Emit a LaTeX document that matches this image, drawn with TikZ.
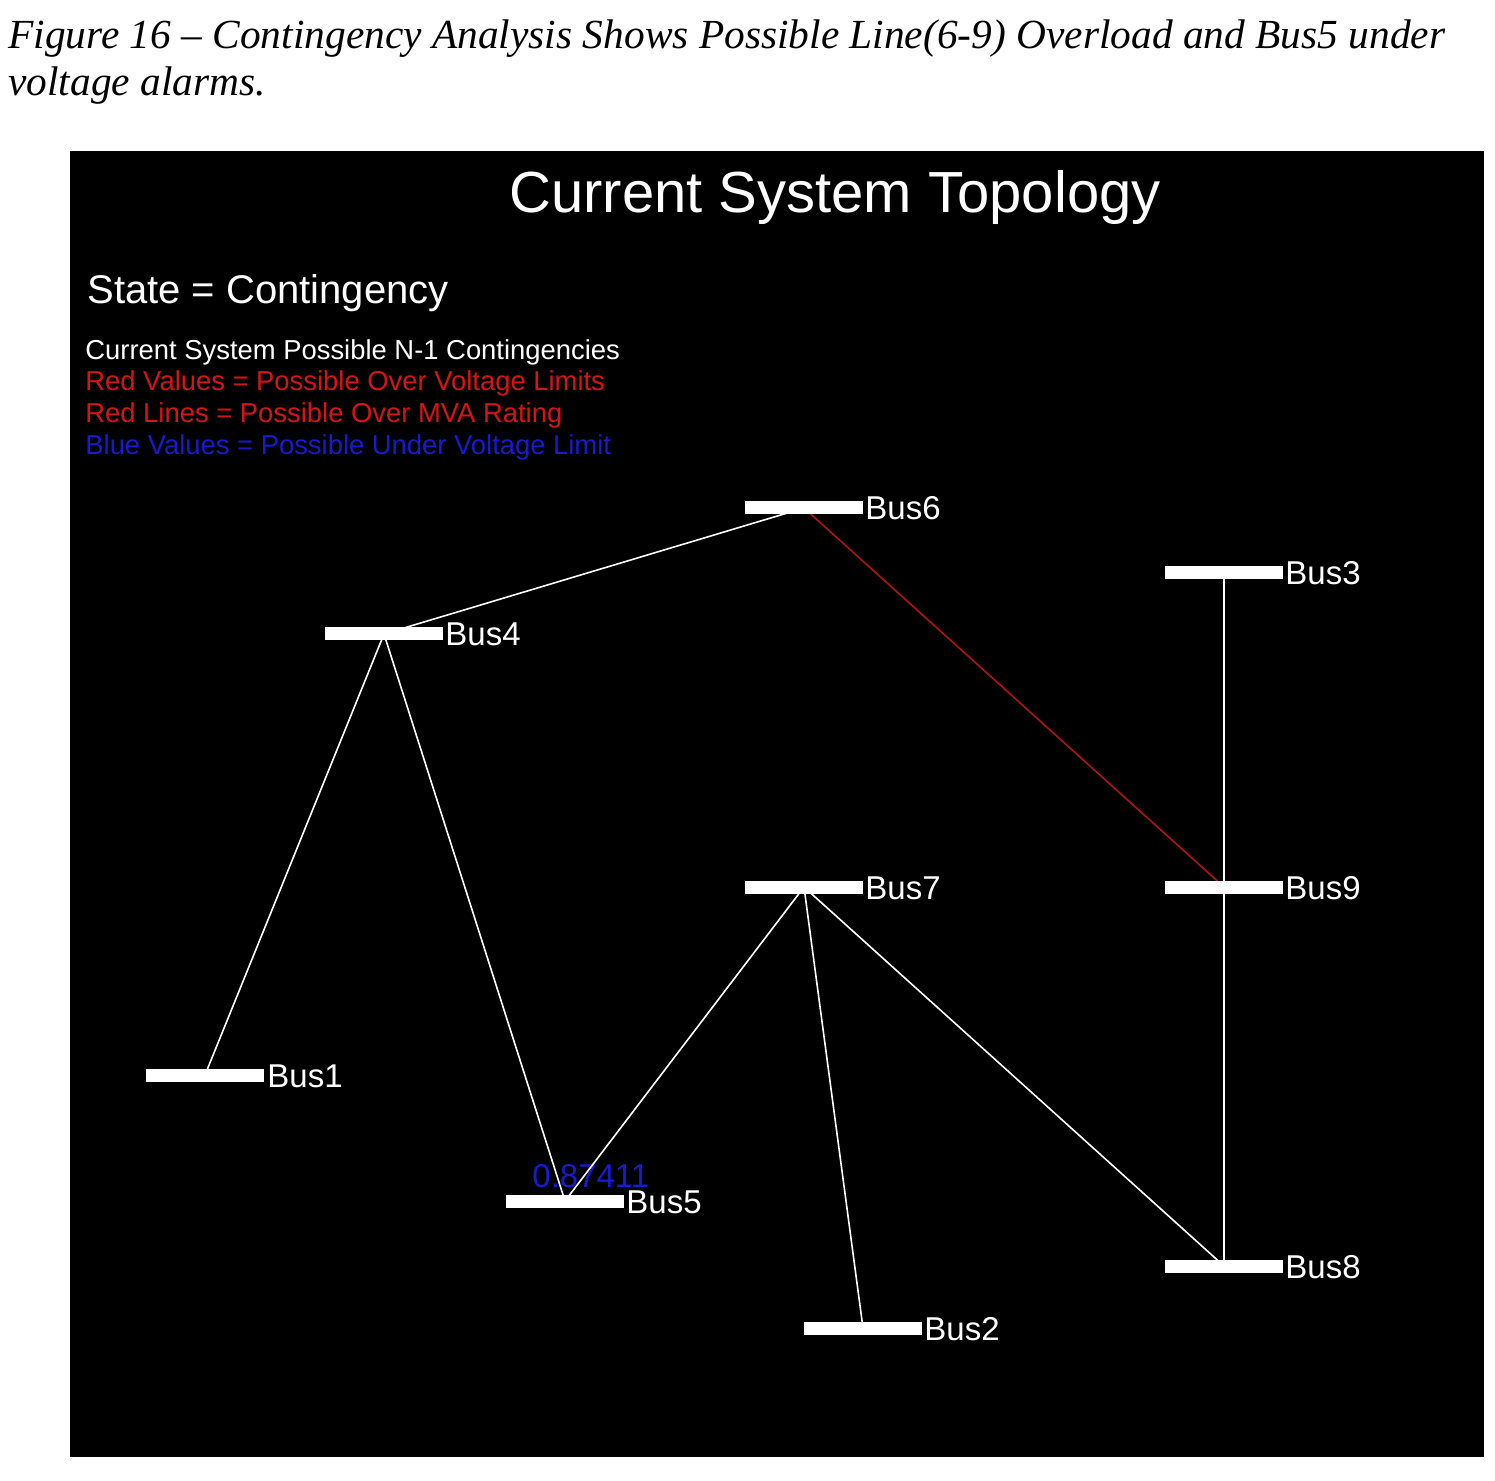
\documentclass[tikz,border=0pt]{standalone}
\usepackage{fontspec}
\setmainfont{Liberation Serif}
\newfontfamily\arialf{Liberation Sans}
\pgfdeclarelayer{bottom}
\pgfdeclarelayer{lines}
\pgfsetlayers{bottom,lines,main}
\definecolor{lred}{RGB}{215,20,20}
\definecolor{lblue}{RGB}{25,25,205}
\definecolor{linered}{RGB}{175,20,20}
\tikzset{
  busbar/.style={fill=white, draw=none, minimum width=59pt, minimum height=6.5pt, inner sep=0pt},
  buslabel/.style={anchor=base west, inner sep=0pt, text=white, font=\arialf\fontsize{16.5}{18}\selectfont},
  legend/.style={anchor=base west, inner sep=0pt, font=\arialf\fontsize{13.7}{15}\selectfont},
  captionline/.style={anchor=base west, inner sep=0pt, font=\itshape\fontsize{20.7}{23}\selectfont},
  wire/.style={draw=white, line width=0.8pt},
  overload/.style={draw=linered, line width=0.8pt}
}
\begin{document}
\begin{tikzpicture}[x=0.5pt,y=-0.5pt]
\useasboundingbox (0,0) rectangle (1495,1481);
\begin{pgfonlayer}{bottom}
\fill[white] (0,0) rectangle (1495,1481);
\fill[black] (70,151) rectangle (1484,1457);
\end{pgfonlayer}
\node[captionline] (cap1) at (8,49) {Figure 16 -- Contingency Analysis Shows Possible Line(6-9) Overload and Bus5 under};
\node[captionline] (cap2) at (8,96) {voltage alarms.};
\node[anchor=base, inner sep=0pt, text=white, font=\arialf\fontsize{29}{32}\selectfont] (title) at (835,213) {Current System Topology};
\node[anchor=base west, inner sep=0pt, text=white, font=\arialf\fontsize{20}{22}\selectfont] (state) at (87,304) {State = Contingency};
\node[legend, text=white] (leg1) at (85,360) {Current System Possible N-1 Contingencies};
\node[legend, text=lred] (leg2) at (85,391) {Red Values = Possible Over Voltage Limits};
\node[legend, text=lred] (leg3) at (85,423) {Red Lines = Possible Over MVA Rating};
\node[legend, text=lblue] (leg4) at (85,455) {Blue Values = Possible Under Voltage Limit};
% bus bars
\node[busbar] (bus6) at (804,508) {};
\node[busbar] (bus3) at (1224,573) {};
\node[busbar] (bus4) at (384,634) {};
\node[busbar] (bus7) at (804,887) {};
\node[busbar] (bus9) at (1224,887) {};
\node[busbar] (bus1) at (205,1075) {};
\node[busbar] (bus5) at (565,1201) {};
\node[busbar] (bus8) at (1224,1266) {};
\node[busbar] (bus2) at (863,1328) {};
% labels
\node[buslabel] (l6) at (865,520) {Bus6};
\node[buslabel] (l3) at (1285,585) {Bus3};
\node[buslabel] (l4) at (445,646) {Bus4};
\node[buslabel] (l7) at (865,899) {Bus7};
\node[buslabel] (l9) at (1285,899) {Bus9};
\node[buslabel] (l1) at (267,1087) {Bus1};
\node[buslabel] (l5) at (626,1213) {Bus5};
\node[buslabel] (l8) at (1285,1278) {Bus8};
\node[buslabel] (l2) at (924,1340) {Bus2};
\begin{pgfonlayer}{bottom}
\node[anchor=base west, inner sep=0pt, text=lblue, font=\arialf\fontsize{16.5}{18}\selectfont] (v5) at (532,1187) {0.87411};
\end{pgfonlayer}
% connectors
\begin{pgfonlayer}{lines}
\draw[wire] (bus4.center) -- (bus6.center);
\draw[wire] (bus4.center) -- (bus1.center);
\draw[wire] (bus4.center) -- (bus5.center);
\draw[wire] (bus7.center) -- (bus5.center);
\draw[wire] (bus7.center) -- (bus2.center);
\draw[wire] (bus7.center) -- (bus8.center);
\draw[wire] (bus3.center) -- (bus9.center);
\draw[wire] (bus9.center) -- (bus8.center);
\draw[overload] (bus6.center) -- (bus9.center);
\end{pgfonlayer}
\end{tikzpicture}
\end{document}
